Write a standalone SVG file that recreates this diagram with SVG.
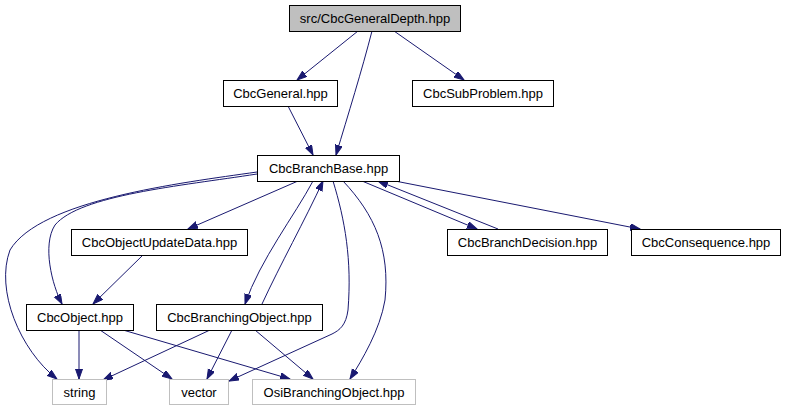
<svg xmlns="http://www.w3.org/2000/svg" width="785" height="411" viewBox="0 0 785 411">
<style>
.n rect{fill:#ffffff;stroke:#000000;stroke-width:1}
.n.root rect{fill:#bfbfbf}
.n.ext rect{stroke:#bfbfbf}
.n text{font-family:"Liberation Sans",Arial,sans-serif;font-size:13px;fill:#000000;text-anchor:middle}
#edges path{fill:none;stroke:#191970;stroke-width:1;marker-end:url(#ah)}
</style>
<defs>
<marker id="ah" markerUnits="userSpaceOnUse" markerWidth="11" markerHeight="8" refX="10" refY="3.5" orient="auto">
<path d="M0,0 L10,3.5 L0,7 z" fill="#191970" stroke="#191970" stroke-width="1"/>
</marker>
</defs>
<rect width="785" height="411" fill="#ffffff"/>
<g id="edges">
<path d="M358,31 L297,80"/>
<path d="M372,31 C362,70 348,115 336,155"/>
<path d="M394,31 L464,80"/>
<path d="M288,106 L313,155"/>
<path d="M298,181 L188,229"/>
<path d="M257,174 C180,186 80,195 55,225 C42,245 52,285 62,304"/>
<path d="M257,172 C180,183 40,200 10,250 C-5,290 20,350 57,379"/>
<path d="M313,181 C295,215 260,260 245,304"/>
<path d="M262,304 C280,265 305,220 323,181"/>
<path d="M333,181 C345,220 352,260 348,310 C346,325 340,330 332,334 L229,381"/>
<path d="M343,181 C375,215 390,250 385,300 C380,330 362,360 350,379"/>
<path d="M362,181 L477,229"/>
<path d="M498,229 L378,181"/>
<path d="M395,181 L640,229"/>
<path d="M143,255 L93,304"/>
<path d="M79,330 L79,379"/>
<path d="M100,330 L172,379"/>
<path d="M123,330 L290,379"/>
<path d="M210,330 L103,380"/>
<path d="M232,330 L207,379"/>
<path d="M255,330 L313,379"/>
</g>
<g id="node_root" class="n root"><rect x="289.5" y="5.5" width="171" height="26"/><text x="375" y="23">src/CbcGeneralDepth.hpp</text></g>
<g id="node_general" class="n"><rect x="223.5" y="80.5" width="114" height="26"/><text x="280.5" y="98">CbcGeneral.hpp</text></g>
<g id="node_subproblem" class="n"><rect x="412.5" y="80.5" width="141" height="26"/><text x="483" y="98">CbcSubProblem.hpp</text></g>
<g id="node_branchbase" class="n"><rect x="257.5" y="155.5" width="142" height="26"/><text x="328.5" y="173">CbcBranchBase.hpp</text></g>
<g id="node_objupd" class="n"><rect x="71.5" y="229.5" width="176" height="26"/><text x="159.5" y="247">CbcObjectUpdateData.hpp</text></g>
<g id="node_decision" class="n"><rect x="447.5" y="229.5" width="160" height="26"/><text x="527.5" y="247">CbcBranchDecision.hpp</text></g>
<g id="node_consequence" class="n"><rect x="631.5" y="229.5" width="149" height="26"/><text x="706" y="247">CbcConsequence.hpp</text></g>
<g id="node_object" class="n"><rect x="26.5" y="304.5" width="107" height="26"/><text x="80" y="322">CbcObject.hpp</text></g>
<g id="node_branching" class="n"><rect x="156.5" y="304.5" width="166" height="26"/><text x="239.5" y="322">CbcBranchingObject.hpp</text></g>
<g id="node_string" class="n ext"><rect x="52.5" y="379.5" width="54" height="25"/><text x="79.5" y="396.5">string</text></g>
<g id="node_vector" class="n ext"><rect x="169.5" y="379.5" width="59" height="25"/><text x="199" y="396.5">vector</text></g>
<g id="node_osi" class="n ext"><rect x="252.5" y="379.5" width="163" height="25"/><text x="334" y="396.5">OsiBranchingObject.hpp</text></g>
</svg>
